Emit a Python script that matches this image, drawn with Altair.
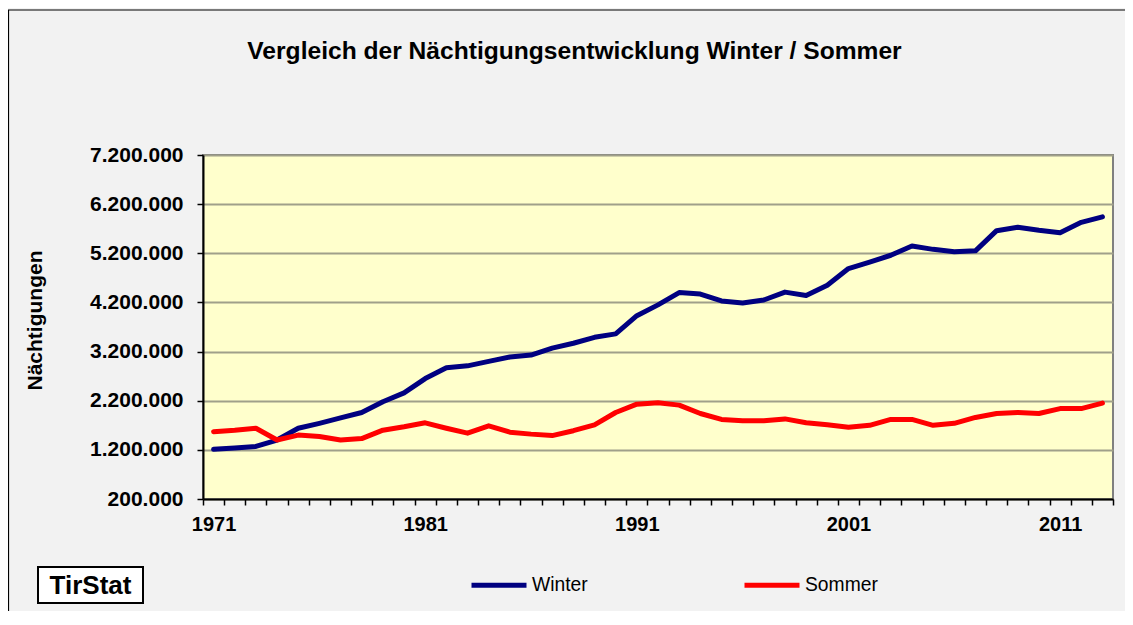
import json
import altair as alt
import pandas as pd

years = ["1971", "1972", "1973", "1974", "1975", "1976", "1977", "1978", "1979", "1980",
         "1981", "1982", "1983", "1984", "1985", "1986", "1987", "1988", "1989", "1990",
         "1991", "1992", "1993", "1994", "1995", "1996", "1997", "1998", "1999", "2000",
         "2001", "2002", "2003", "2004", "2005", "2006", "2007", "2008", "2009", "2010",
         "2011", "2012", "2013"]

winter = [1210000, 1240000, 1270000, 1400000, 1640000, 1740000, 1850000, 1960000, 2180000, 2360000,
          2650000, 2870000, 2910000, 3000000, 3090000, 3130000, 3270000, 3370000, 3490000, 3560000,
          3930000, 4150000, 4400000, 4370000, 4230000, 4190000, 4250000, 4410000, 4340000, 4550000,
          4890000, 5020000, 5160000, 5350000, 5280000, 5230000, 5250000, 5660000, 5730000, 5670000,
          5620000, 5830000, 5940000]

sommer = [1570000, 1600000, 1640000, 1400000, 1500000, 1470000, 1400000, 1430000, 1600000, 1670000,
          1750000, 1640000, 1540000, 1690000, 1560000, 1520000, 1490000, 1590000, 1710000, 1960000,
          2130000, 2160000, 2110000, 1940000, 1820000, 1790000, 1790000, 1830000, 1750000, 1710000,
          1660000, 1700000, 1820000, 1820000, 1700000, 1740000, 1860000, 1940000, 1960000, 1940000,
          2040000, 2040000, 2150000]

series_names = ["Winter", "Sommer"]
series_colors = ["#000080", "#ff0000"]
y_ticks = [200000, 1200000, 2200000, 3200000, 4200000, 5200000, 6200000, 7200000]
x_labels = ["1971", "1981", "1991", "2001", "2011"]

title_text = "Vergleich der Nächtigungsentwicklung Winter / Sommer"
y_title = "Nächtigungen"
logo_text = "TirStat"

rows = []
for name, vals in zip(series_names, [winter, sommer]):
    for yr, v in zip(years, vals):
        rows.append({"year": yr, "series": name, "value": v})
df = pd.DataFrame(rows)

FONT = "Liberation Sans"

x_label_expr = "indexof(" + json.dumps(x_labels) + ", datum.value) >= 0 ? datum.value : ''"
y_label_expr = "replace(format(datum.value, ','), regexp(',', 'g'), '.')"

lines = alt.Chart(df).mark_line(strokeWidth=5, strokeCap="round", strokeJoin="round").encode(
    x=alt.X(
        "year:O",
        sort=years,
        bandPosition=0.5,
        scale=alt.Scale(type="band", paddingInner=0, paddingOuter=0),
        axis=alt.Axis(
            title=None,
            labelExpr=x_label_expr,
            tickBand="extent",
            labelOverlap=False,
            labelAngle=0,
            labelFont=FONT,
            labelFontSize=20,
            labelFontWeight="bold",
            labelColor="black",
            labelPadding=9,
            domainColor="black",
            domainWidth=2,
            tickColor="black",
            tickSize=6,
            tickWidth=1.5,
            grid=False,
        ),
    ),
    y=alt.Y(
        "value:Q",
        scale=alt.Scale(domain=[y_ticks[0], y_ticks[-1]], nice=False, zero=False),
        axis=alt.Axis(
            values=y_ticks,
            labelExpr=y_label_expr,
            title=y_title,
            titleFont=FONT,
            titleFontSize=21,
            titleFontWeight="bold",
            titleColor="black",
            titleX=-168,
            titleY=165,
            titleAlign="center",
            titleBaseline="middle",
            labelFont=FONT,
            labelFontSize=21,
            labelFontWeight="bold",
            labelColor="black",
            labelPadding=14,
            domainColor="black",
            domainWidth=2,
            tickColor="black",
            tickSize=6,
            tickWidth=1.5,
            grid=True,
            gridColor="#a0a08a",
            gridWidth=2,
        ),
    ),
    color=alt.Color(
        "series:N",
        sort=series_names,
        scale=alt.Scale(domain=series_names, range=series_colors),
        legend=alt.Legend(
            title=None,
            orient="none",
            legendX=266,
            legendY=400,
            direction="horizontal",
            symbolType="stroke",
            symbolSize=3025,
            symbolStrokeWidth=5,
            labelFont=FONT,
            labelFontSize=19.3,
            labelColor="black",
            labelOffset=3,
            columnPadding=146,
        ),
    ),
)

deco = pd.DataFrame({"label": [logo_text], "title": [title_text]})

frame = alt.Chart(deco).mark_rect(fillOpacity=0, stroke="black", strokeWidth=1.2).encode(
    x=alt.value(-194.5), x2=alt.value(1300), y=alt.value(-145), y2=alt.value(700)
)

title_mark = alt.Chart(deco).mark_text(
    font=FONT, fontSize=24.6, fontWeight="bold", color="black", baseline="alphabetic", align="center"
).encode(x=alt.value(371.5), y=alt.value(-96), text="title:N")

logo_box = alt.Chart(deco).mark_rect(fill="white", stroke="black", strokeWidth=2).encode(
    x=alt.value(-165), x2=alt.value(-60), y=alt.value(412), y2=alt.value(448)
)

logo_text_mark = alt.Chart(deco).mark_text(
    font=FONT, fontSize=26, fontWeight="bold", color="black", baseline="middle", align="center"
).encode(x=alt.value(-112.5), y=alt.value(431), text="label:N")

chart = alt.layer(frame, title_mark, lines, logo_box, logo_text_mark).properties(
    width=910,
    height=344,
    autosize=alt.AutoSizeParams(type="none"),
    padding={"left": 195, "top": 147, "right": 12, "bottom": 112},
    background="#f2f2f2",
).configure_view(
    fill="#ffffcc", stroke="#808080", strokeWidth=2
)

chart.save("out.html", embed_options={"renderer": "svg", "actions": False})
